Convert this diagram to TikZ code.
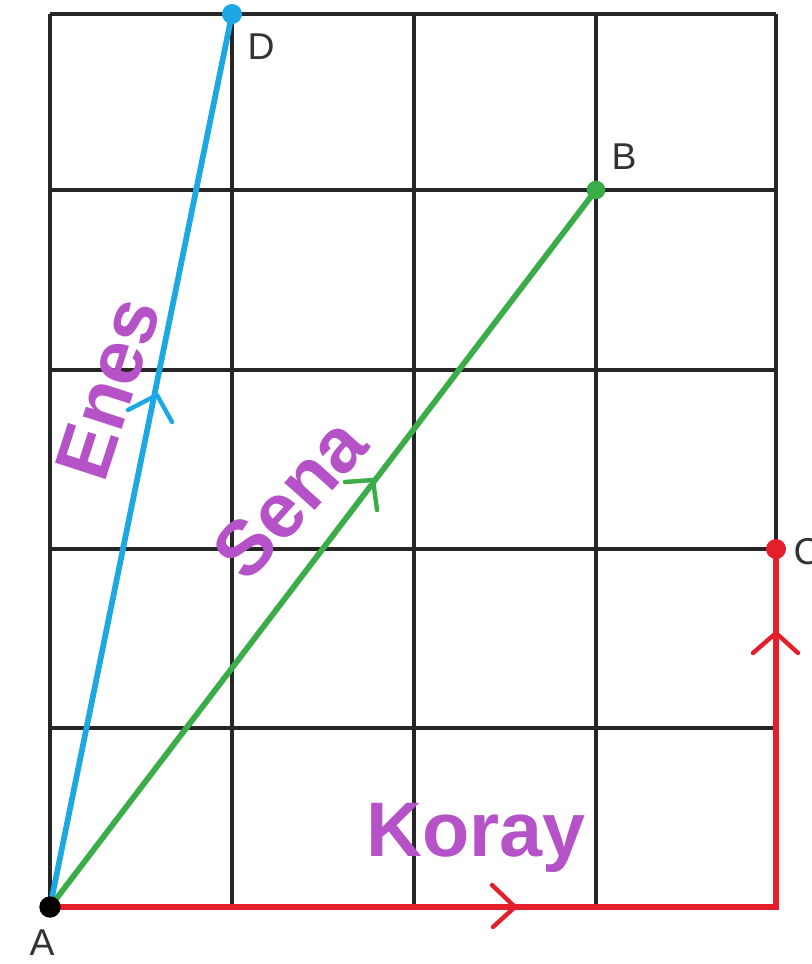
\documentclass[tikz,border=0pt]{standalone}
\usepackage{fontspec}
\setmainfont{Liberation Sans}
\begin{document}
\begin{tikzpicture}[x=0.75pt,y=-0.75pt,
  gridline/.style={line width=2.5pt,black!85},
  vec/.style={line width=4.3pt},
  chev/.style={line width=3.3pt,line cap=round,line join=round},
  dot/.style={circle,inner sep=0pt,minimum size=#1},
  ptlabel/.style={font=\fontsize{28}{30}\selectfont,text=black!80},
  hand/.style={font=\fontsize{58}{60}\selectfont\bfseries,text=handpurple}]
\definecolor{vblue}{RGB}{28,168,228}
\definecolor{vgreen}{RGB}{58,172,72}
\definecolor{vred}{RGB}{228,30,42}
\definecolor{handpurple}{RGB}{182,82,200}
\useasboundingbox (0,0) rectangle (811,964);
\fill[white] (0,0) rectangle (811,964);
% grid
\foreach \x in {50,232,414,596,776} \draw[gridline] (\x,14) -- (\x,907);
\foreach \y in {14,190,370,549,728,907} \draw[gridline] (50,\y) -- (776,\y);
% points
\coordinate (A) at (50,907);
\coordinate (D) at (232,14);
\coordinate (B) at (596,190);
\coordinate (C) at (776,549);
\coordinate (E) at (776,907);
% vectors
\draw[vec,vblue] (A) -- (D);
\draw[vec,vgreen] (A) -- (B);
\draw[vec,vred,line width=5pt] (A) -- (E) -- (C);
% chevrons
\coordinate (bt) at (157,395); \coordinate (b1) at (128,410); \coordinate (b2) at (172,422);
\draw[chev,vblue] (b1) -- (bt) -- (b2);
\coordinate (gt) at (373,480); \coordinate (g1) at (345,482); \coordinate (g2) at (377,510);
\draw[chev,vgreen] (g1) -- (gt) -- (g2);
\coordinate (rt) at (515,907); \coordinate (r1) at (492,885); \coordinate (r2) at (493,927);
\draw[chev,vred] (r1) -- (rt) -- (r2);
\coordinate (vt) at (776,633); \coordinate (v1) at (753,653); \coordinate (v2) at (798,653);
\draw[chev,vred] (v1) -- (vt) -- (v2);
% dots
\node[dot=16pt,fill=black] (Ad) at (A) {};
\node[dot=15pt,fill=vblue] (Dd) at (D) {};
\node[dot=14pt,fill=vgreen] (Bd) at (B) {};
\node[dot=15pt,fill=vred] (Cd) at (C) {};
% point labels
\node[ptlabel] (Al) at (42,943) {A};
\node[ptlabel] (Dl) at (261,47) {D};
\node[ptlabel] (Bl) at (624,157) {B};
\node[ptlabel,anchor=west] (Cl) at (789,552) {C};
% handwritten names
\node[hand,rotate=72] (enes) at (108,388) {Enes};
\node[hand,rotate=48] (sena) at (290,498) {Sena};
\node[hand] (koray) at (476,838) {Koray};
\end{tikzpicture}
\end{document}
